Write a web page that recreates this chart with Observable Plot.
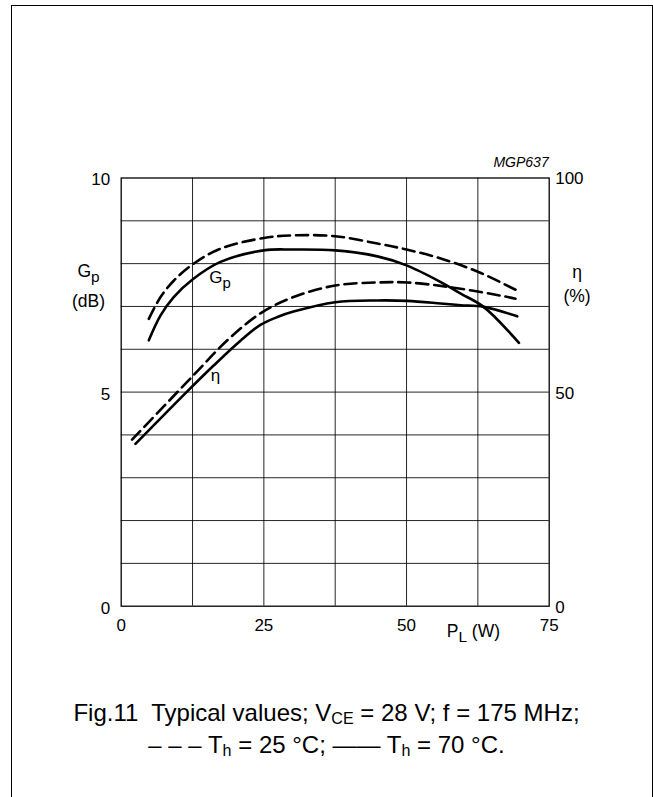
<!DOCTYPE html>
<html><head><meta charset="utf-8">
<script src="https://cdn.jsdelivr.net/npm/d3@7"></script>
<script src="https://cdn.jsdelivr.net/npm/@observablehq/plot@0.6"></script>
<style>
body{margin:0;background:#fff;font-family:"Liberation Sans",Arial,sans-serif;}
#wrap{position:relative;width:653px;height:797px;overflow:hidden;background:#fff;}
#border{position:absolute;left:11px;top:5px;width:641.5px;height:820px;border:1.5px solid #000;box-sizing:border-box;}
#chart{position:absolute;left:0;top:0;}
#caption{position:absolute;left:0;top:696.7px;width:653px;text-align:center;font-size:24px;line-height:32px;color:#000;white-space:pre;}
#caption sub{font-size:0.67em;vertical-align:-0.18em;line-height:0;}
</style></head>
<body>
<div id="wrap">
  <div id="border"></div>
  <div id="chart"></div>
  <div id="caption"><div>Fig.11  Typical values; V<sub>CE</sub> = 28 V; f = 175 MHz;</div><div>– – – T<sub>h</sub> = 25 °C; —— T<sub>h</sub> = 70 °C.</div></div>
</div>
<script>
// Load power P_L (W)
const gp70P   = [4.84, 6.9, 9.2, 12.5, 17.4, 25, 30, 37.5, 44.9, 50, 56, 59.5, 63.5, 69.7];
// Power gain Gp (dB), Th = 70 °C (solid)
const gp70V   = [6.21, 6.79, 7.22, 7.63, 8.04, 8.31, 8.33, 8.31, 8.17, 7.96, 7.57, 7.30, 6.99, 6.15];
const gp25P   = [4.84, 6.9, 9.2, 12.5, 17.4, 25, 30, 37.5, 44.9, 50, 56, 62.7, 69.4];
// Power gain Gp (dB), Th = 25 °C (dashed)
const gp25V   = [6.71, 7.22, 7.60, 7.98, 8.35, 8.60, 8.66, 8.64, 8.47, 8.33, 8.12, 7.80, 7.37];
const eta70P  = [2.5, 11.45, 16.2, 20.9, 24.4, 27.5, 30.2, 37.5, 44.9, 50.1, 56, 59.5, 63.5, 69.4];
// Efficiency eta (%), Th = 70 °C (solid)
const eta70V  = [37.9, 50, 56.2, 62.0, 65.7, 67.6, 68.8, 71.0, 71.4, 71.3, 70.7, 70.3, 69.9, 67.7];
const eta25P  = [1.9, 12.5, 18.6, 24.4, 30.2, 37.5, 44.9, 50.1, 57.7, 67, 69.1];
// Efficiency eta (%), Th = 25 °C (dashed)
const eta25V  = [38.9, 53.7, 62.1, 68.4, 72.2, 74.9, 75.6, 75.6, 74.5, 72.4, 71.8];

const xTicks = [0, 25, 50, 75];
const xGrid = [12.5, 25, 37.5, 50, 62.5];
const yTicks = [0, 5, 10];
const yGrid = [1, 2, 3, 4, 5, 6, 7, 8, 9];

const zip = (xs, ys) => xs.map((x, i) => ({p: x, v: ys[i]}));
const gp70 = zip(gp70P, gp70V), gp25 = zip(gp25P, gp25V);
const eta70 = zip(eta70P, eta70V), eta25 = zip(eta25P, eta25V);

const lineOpts = {x: "p", curve: "catmull-rom", stroke: "#000", strokeWidth: 2.6};

const plot = Plot.plot({
  width: 653, height: 660,
  marginLeft: 120.7, marginRight: 104.3, marginTop: 177.5, marginBottom: 54.3,
  style: {fontFamily: "'Liberation Sans', Arial, sans-serif", fontSize: "17px", color: "#000", background: "transparent"},
  x: {domain: [0, 75]},
  y: {domain: [0, 10]},
  marks: [
    Plot.gridX(xGrid, {stroke: "#000", strokeOpacity: 0.85, strokeWidth: 1}),
    Plot.gridY(yGrid, {stroke: "#000", strokeOpacity: 0.85, strokeWidth: 1}),
    Plot.frame({stroke: "#000", strokeWidth: 1.3}),
    Plot.axisX(xTicks, {tickSize: 0, tickPadding: 13, label: null, fontSize: 17}),
    Plot.axisY(yTicks, {anchor: "left", tickSize: 0, tickPadding: 11, label: null, fontSize: 17, dy: 2}),
    Plot.axisY(yTicks, {anchor: "right", tickSize: 0, tickPadding: 6, label: null, fontSize: 17, dy: 1, tickFormat: d => d * 10}),
    Plot.line(gp70, {...lineOpts, y: "v"}),
    Plot.line(gp25, {...lineOpts, y: "v", strokeDasharray: "12,6"}),
    Plot.line(eta70, {...lineOpts, y: d => d.v / 10}),
    Plot.line(eta25, {...lineOpts, y: d => d.v / 10, strokeDasharray: "12,6"})
  ]
});
document.getElementById("chart").appendChild(plot);

const sx = plot.scale("x"), sy = plot.scale("y");
const svg = d3.select(plot);
const FF = "'Liberation Sans', Arial, sans-serif";

function label(x, y, main, sub, size, anchor, rest) {
  const t = svg.append("text").attr("x", x).attr("y", y).attr("font-family", FF)
    .attr("font-size", size).attr("text-anchor", anchor || "start").attr("fill", "#000");
  t.append("tspan").text(main);
  if (sub) t.append("tspan").attr("dy", 5).attr("font-size", size * 0.88).text(sub);
  if (rest) t.append("tspan").attr("dy", sub ? -5 : 0).text(rest);
  return t;
}

// inline curve labels (placed in data space)
label(sx.apply(15.5), sy.apply(7.53), "G", "p", 17, "start");
label(sx.apply(15.8), sy.apply(5.25), "η", null, 17, "start");

// axis titles
label(88.5, 277.3, "G", "p", 17.5, "middle");
label(88.5, 307, "(dB)", null, 17.5, "middle");
label(577, 278, "η", null, 17.5, "middle");
label(577, 301.5, "(%)", null, 17.5, "middle");
label(446.7, 637, "P", "L", 17.5, "start", " (W)");

svg.append("text").attr("x", sx.apply(75)).attr("y", 166.5).attr("text-anchor", "end")
  .attr("font-family", FF).attr("font-size", 14).attr("font-style", "italic").text("MGP637");
</script>
</body></html>
